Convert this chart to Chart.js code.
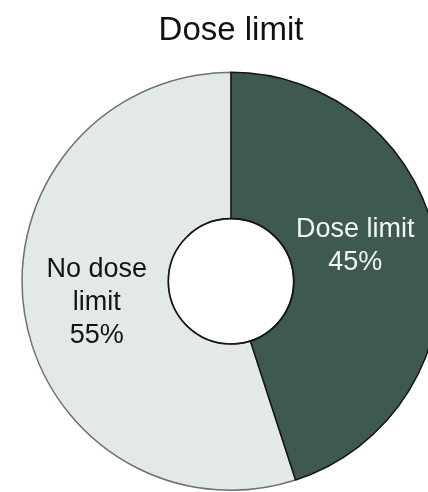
<!DOCTYPE html>
<html>
<head>
<meta charset="utf-8">
<script src="https://cdn.jsdelivr.net/npm/chart.js@4.4.1/dist/chart.umd.min.js"></script>
<style>
html, body { margin: 0; padding: 0; background: #fff; overflow: hidden; }
#doseChart { display: block; }
</style>
</head>
<body>
<canvas id="doseChart" width="462" height="492"></canvas>
<script>
// slices, listed so the dark one is drawn last and its border sits on top
const categories = ['No dose limit', 'Dose limit'];
const shares = [55, 45];
const sliceLabels = [['No dose', 'limit', '55%'], ['Dose limit', '45%']];

const sliceColors = ['#e3e9e9', '#3d5952'];
const edgeColors = ['#707070', '#151515'];
const textColors = ['#141414', '#f2f5f5'];

// text inside each slice, placed at the slice's middle point,
// plus a dark ring around the hole
const sliceText = {
  id: 'sliceText',
  afterDatasetsDraw(chart, args, opts) {
    const ctx = chart.ctx;
    const arcs = chart.getDatasetMeta(0).data;
    ctx.save();

    const a = arcs[0];
    ctx.beginPath();
    ctx.arc(a.x, a.y, a.innerRadius, 0, Math.PI * 2);
    ctx.lineWidth = 1.6;
    ctx.strokeStyle = '#151515';
    ctx.stroke();

    ctx.font = opts.size + 'px "Liberation Sans", Arial, sans-serif';
    ctx.textAlign = 'center';
    ctx.textBaseline = 'middle';
    arcs.forEach((arc, i) => {
      const p = arc.getCenterPoint();
      const lines = sliceLabels[i];
      const nudge = opts.nudge[i];
      const top = p.y + nudge[1] - (lines.length - 1) * opts.lineHeight / 2;
      ctx.fillStyle = textColors[i];
      lines.forEach((line, k) => {
        ctx.fillText(line, p.x + nudge[0], top + k * opts.lineHeight);
      });
    });
    ctx.restore();
  }
};

const chart = document.getElementById('doseChart');

new Chart(chart, {
  type: 'doughnut',
  data: {
    labels: categories,
    datasets: [{
      data: shares,
      backgroundColor: sliceColors,
      borderColor: edgeColors,
      borderWidth: 1.5
    }]
  },
  options: {
    responsive: false,
    animation: false,
    rotation: 162,
    cutout: '30%',
    layout: { padding: { bottom: 1 } },
    plugins: {
      legend: { display: false },
      tooltip: { enabled: false },
      title: {
        display: true,
        text: 'Dose limit',
        color: '#111',
        font: { family: '"Liberation Sans", Arial, sans-serif', size: 33, weight: 'normal', lineHeight: 1.2 },
        padding: { top: 11, bottom: 21 }
      },
      sliceText: {
        size: 27,
        lineHeight: 33,
        nudge: [[0, 0], [-10, -14]]
      }
    }
  },
  plugins: [sliceText]
});
</script>
</body>
</html>
